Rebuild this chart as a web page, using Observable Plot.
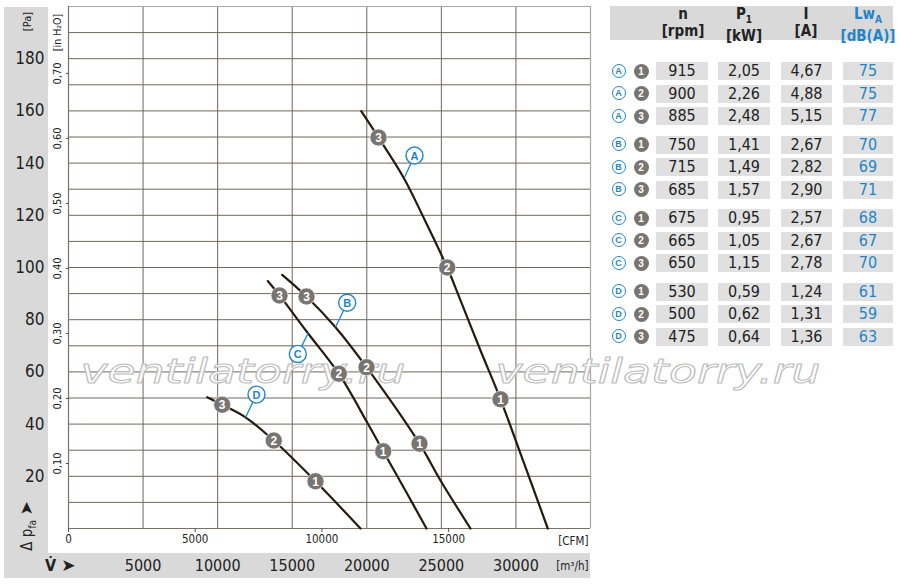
<!DOCTYPE html>
<html><head><meta charset="utf-8">
<script src="https://cdn.jsdelivr.net/npm/d3@7"></script>
<script src="https://cdn.jsdelivr.net/npm/@observablehq/plot@0.6"></script>
<style>
body{margin:0;background:#fff;}
#wrap{position:relative;width:900px;height:585px;overflow:hidden;font-family:"Liberation Sans Narrow","DejaVu Sans Condensed","Liberation Sans",sans-serif;color:#222;}
.panel{position:absolute;background:#d9d9d9;}
#chart{position:absolute;left:0;top:0;}
.abs{position:absolute;white-space:nowrap;}
.hdr{position:absolute;font-weight:bold;font-size:15px;text-align:center;width:80px;line-height:17px;}
.cell{position:absolute;height:18px;background:#e0e0e0;font-size:16px;line-height:18px;text-align:center;}
.lc{position:absolute;width:12px;height:12px;border:1.3px solid #1f84c9;border-radius:50%;background:#fff;color:#1f84c9;font-weight:bold;font-size:9px;line-height:12px;text-align:center;font-family:"Liberation Sans",sans-serif;}
.nc{position:absolute;width:15px;height:15px;border-radius:50%;background:#787470;color:#fff;font-weight:bold;font-size:10px;line-height:15px;text-align:center;font-family:"Liberation Sans",sans-serif;}
.blue{color:#1f84c9;}
</style></head>
<body><div id="wrap">
<div class="panel" style="left:4px;top:7px;width:44px;height:546px;"></div>
<div class="panel" style="left:4px;top:553px;width:586px;height:25px;"></div>
<div class="panel" style="left:610px;top:6px;width:283px;height:34px;"></div>
<div id="chart"></div>
<div class="abs" style="left:27px;top:526px;transform:translate(-50%,-50%) rotate(-90deg);font-size:15px;">Δ p<sub style="font-size:10px;">fa</sub> <span style="font-family:'DejaVu Sans';font-size:17px;">➤</span></div>
<div class="abs" style="left:45px;top:555px;font-size:16px;font-weight:bold;">V̇ <span style="font-family:'DejaVu Sans';font-size:17px;font-weight:normal;">➤</span></div>
<div id="table"></div>
</div>
<script>
// ---- data ----
const paTicks = [20, 40, 60, 80, 100, 120, 140, 160, 180];
const paGrid = [10, 20, 30, 40, 50, 60, 70, 80, 90, 100, 110, 120, 130, 140, 150, 160, 170, 180, 190];
const flowGrid = [5000, 10000, 15000, 20000, 25000, 30000];
const m3Ticks = [5000, 10000, 15000, 20000, 25000, 30000];
const cfmTicks = [0, 5000, 10000, 15000];
const inH2OTicks = [0.1, 0.2, 0.3, 0.4, 0.5, 0.6, 0.7];
const PA_PER_INH2O = 249.09;
const M3H_PER_CFM = 1.69901;

const flowA = [19626, 20785, 22462, 23803, 25392, 26284, 27625, 28966, 30307, 32137];
const pressA = [159.9, 149.8, 134.5, 119.2, 100, 87.4, 68.2, 49.5, 28.7, 0];
const flowB = [14329, 15958, 17902, 19981, 23535, 24943, 26954];
const pressB = [97.2, 88.9, 77.1, 61.8, 32.5, 18.4, 0];
const flowC = [13363, 14148, 16072, 18124, 20028, 21101, 22710, 24004];
const pressC = [94.8, 89.3, 74.7, 59.3, 40.6, 29.6, 13.3, 0];
const flowD = [9300, 10306, 11868, 13765, 16561, 19579];
const pressD = [50.3, 47.4, 42.6, 33.7, 18.1, 0];

const markerSeries = ["A","A","A","B","B","B","C","C","C","D","D","D"];
const markerStep = [3, 2, 1, 3, 2, 1, 3, 2, 1, 3, 2, 1];
const markerFlow = [20785, 25392, 28966, 15958, 19981, 23535, 14148, 18124, 21101, 10306, 13765, 16561];
const markerPress = [149.8, 100, 49.5, 88.9, 61.8, 32.5, 89.3, 59.3, 29.6, 47.4, 33.7, 18.1];

const labelLetter = ["A", "B", "C", "D"];
const labelFlow = [23199, 18687, 15375, 12605];
const labelPress = [142.9, 86.5, 66.9, 51.3];
const leaderFlow = [22529, 17902, 16092, 11868];
const leaderPress = [134.5, 77.1, 75.1, 42.5];

const rowSeries = ["A","A","A","B","B","B","C","C","C","D","D","D"];
const rowStep = [1, 2, 3, 1, 2, 3, 1, 2, 3, 1, 2, 3];
const rpm = [915, 900, 885, 750, 715, 685, 675, 665, 650, 530, 500, 475];
const powerKW = [2.05, 2.26, 2.48, 1.41, 1.49, 1.57, 0.95, 1.05, 1.15, 0.59, 0.62, 0.64];
const currentA = [4.67, 4.88, 5.15, 2.67, 2.82, 2.90, 2.57, 2.67, 2.78, 1.24, 1.31, 1.36];
const lwa = [75, 75, 77, 70, 69, 71, 68, 67, 70, 61, 59, 63];

const watermark = "ventilatorry.ru";

// ---- build ----
const FONT = '"Liberation Sans Narrow","DejaVu Sans Condensed","Liberation Sans",sans-serif';
const GRID = "#6f675d";
const BLUE = "#1f84c9";
const curves = [["A", flowA, pressA], ["B", flowB, pressB], ["C", flowC, pressC], ["D", flowD, pressD]]
  .flatMap(([s, fx, py]) => fx.map((f, i) => ({s, flow: f, press: py[i]})));
const markers = markerStep.map((st, i) => ({s: markerSeries[i], step: st, flow: markerFlow[i], press: markerPress[i]}));
const labels = labelLetter.map((l, i) => ({l, lx: labelFlow[i], ly: labelPress[i], cx: leaderFlow[i], cy: leaderPress[i]}));
const comma = v => d3.format(".2f")(v).replace(".", ",");

const plot = Plot.plot({
  width: 900, height: 585,
  marginLeft: 68, marginRight: 310, marginTop: 6, marginBottom: 57,
  style: {background: "transparent", fontFamily: FONT, color: "#222", overflow: "visible"},
  x: {domain: [0, 35000], axis: null},
  y: {domain: [0, 200], axis: null},
  marks: [
    Plot.gridY(paGrid, {stroke: GRID, strokeOpacity: 1, strokeWidth: 1}),
    Plot.gridX(flowGrid, {stroke: GRID, strokeOpacity: 1, strokeWidth: 1}),
    Plot.ruleY([200], {stroke: "#aca69e", strokeWidth: 1.2}),
    Plot.ruleX([35000], {stroke: "#aca69e", strokeWidth: 1.2}),
    Plot.ruleX([0], {stroke: "#7a7268", strokeWidth: 1.2}),
    Plot.ruleY([0], {stroke: "#7a7268", strokeWidth: 1.2}),
    Plot.text([watermark], {text: d => d, frameAnchor: "left", dx: 12, dy: 105, textAnchor: "start", lineAnchor: "middle",
      fontSize: 34, fontStyle: "italic", fontFamily: "DejaVu Sans", fill: "white", fillOpacity: 0.9,
      stroke: "#bcbcbc", strokeWidth: 1, paintOrder: "normal"}),
    Plot.text([watermark], {text: d => d, frameAnchor: "left", dx: 427, dy: 105, textAnchor: "start", lineAnchor: "middle",
      fontSize: 34, fontStyle: "italic", fontFamily: "DejaVu Sans", fill: "white", fillOpacity: 0.9,
      stroke: "#bcbcbc", strokeWidth: 1, paintOrder: "normal"}),
    Plot.line(curves, {x: "flow", y: "press", z: "s", curve: "catmull-rom", stroke: "#241a10", strokeWidth: 2.2}),
    Plot.link(labels, {x1: "cx", y1: "cy", x2: "lx", y2: "ly", stroke: BLUE, strokeWidth: 1.3}),
    Plot.dot(markers, {x: "flow", y: "press", r: 8.5, fill: "#787470", stroke: "white", strokeWidth: 0.6}),
    Plot.text(markers, {x: "flow", y: "press", text: "step", fill: "white", fontWeight: "bold", fontSize: 12, fontFamily: "Liberation Sans", dy: 0.5}),
    Plot.dot(labels, {x: "lx", y: "ly", r: 8.5, fill: "white", stroke: BLUE, strokeWidth: 1.4}),
    Plot.text(labels, {x: "lx", y: "ly", text: "l", fill: BLUE, fontWeight: "bold", fontSize: 11, fontFamily: "Liberation Sans", dy: 0.5}),
    // Pa axis
    Plot.axisY(paTicks, {anchor: "left", tickSize: 0, tickPadding: 24, fontSize: 17, tickFormat: d => String(d), label: null}),
    // inH2O axis
    Plot.tickY(inH2OTicks, {y: d => d * PA_PER_INH2O, frameAnchor: "left", stroke: "#555"}),
    Plot.text(inH2OTicks, {y: d => d * PA_PER_INH2O, frameAnchor: "left", dx: -11, rotate: -90, fontSize: 11,
      textAnchor: "middle", lineAnchor: "middle", text: d => d3.format(".2f")(d).replace(".", ",")}),
    Plot.text(["[Pa]"], {text: d => d, frameAnchor: "top-left", dx: -41, dy: 15, rotate: -90, fontSize: 11,
      textAnchor: "middle", lineAnchor: "middle"}),
    Plot.text(["[in H₂O]"], {text: d => d, frameAnchor: "top-left", dx: -11, dy: 26, rotate: -90, fontSize: 10.5,
      textAnchor: "middle", lineAnchor: "middle"}),
    // CFM axis
    Plot.axisX(cfmTicks.map(c => c * M3H_PER_CFM), {anchor: "bottom", tickSize: 4, tickPadding: 2, fontSize: 11.5,
      tickFormat: d => String(Math.round(d / M3H_PER_CFM)), label: null, stroke: "#555"}),
    Plot.text(["[CFM]"], {text: d => d, frameAnchor: "bottom-right", dx: -2, dy: 13, textAnchor: "end", lineAnchor: "middle", fontSize: 11.5}),
    // m3/h axis
    Plot.axisX(m3Ticks, {anchor: "bottom", tickSize: 0, tickPadding: 31, fontSize: 16, tickFormat: d => String(d), label: null}),
    Plot.text(["[m³/h]"], {text: d => d, frameAnchor: "bottom-right", dx: -2, dy: 38, textAnchor: "end", lineAnchor: "middle", fontSize: 11.5})
  ]
});
d3.select(plot).selectAll("text").filter(function() { return this.textContent === watermark; })
  .attr("textLength", 325).attr("lengthAdjust", "spacingAndGlyphs");
d3.select(plot).selectAll("g[aria-label='tick'] line").each(function() {
  const x = +this.getAttribute("x1"); this.setAttribute("x1", x - 2); this.setAttribute("x2", x + 1);
});
document.getElementById("chart").appendChild(plot);

// ---- table ----
const tbl = document.getElementById("table");
const cols = [
  {c: 683, left: 656, w: 52, h1: "n", h2: "[rpm]", v: i => String(rpm[i])},
  {c: 744, left: 718, w: 52, h1: "P<sub style='font-size:10px'>1</sub>", h2: "[kW]", v: i => comma(powerKW[i])},
  {c: 806, left: 781, w: 51, h1: "I", h2: "[A]", v: i => comma(currentA[i])},
  {c: 868, left: 843, w: 50, h1: "Lw<sub style='font-size:10px'>A</sub>", h2: "[dB(A)]", v: i => String(lwa[i]), blue: true}
];
let html = "";
cols.forEach(col => {
  html += `<div class="hdr${col.blue ? " blue" : ""}" style="left:${col.c - 40}px;top:6px;">${col.h1}<br>${col.h2}</div>`;
});
rpm.forEach((_, i) => {
  const g = Math.floor(i / 3), j = i % 3;
  const cy = 71 + g * 73.5 + j * 22.5;
  html += `<div class="lc" style="left:611.5px;top:${cy - 7.3}px;">${rowSeries[i]}</div>`;
  html += `<div class="nc" style="left:633.5px;top:${cy - 7.5}px;">${rowStep[i]}</div>`;
  cols.forEach(col => {
    html += `<div class="cell${col.blue ? " blue" : ""}" style="left:${col.left}px;width:${col.w}px;top:${cy - 9}px;">${col.v(i)}</div>`;
  });
});
tbl.innerHTML = html;
</script>
</body></html>
